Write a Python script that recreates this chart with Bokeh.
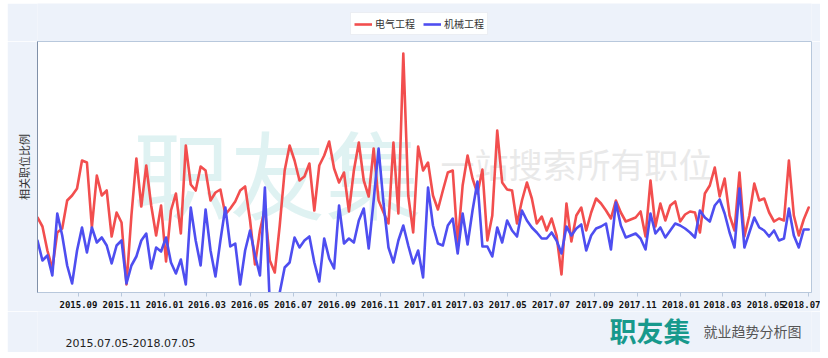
import pandas as pd
from bokeh.plotting import figure
from bokeh.layouts import column
from bokeh.models import (ColumnDataSource, FixedTicker, Range1d,
                          Label, Legend, LegendItem, DatetimeTickFormatter)
from bokeh.embed import file_html
from bokeh.resources import INLINE

# ---- data (weekly, 2015.07.05 - 2018.07.05) ----
start_date = "2015-07-05"
end_date = "2018-07-05"
series_names = ["电气工程", "机械工程"]

electrical = [
    0.75, 0.66, 0.42, 0.24, 0.60, 0.64, 0.92, 0.97, 1.04, 1.32,
    1.30, 0.65, 1.17, 0.97, 1.02, 0.56, 0.80, 0.70, 0.08, 0.77,
    1.34, 0.86, 1.27, 0.87, 0.57, 0.87, 0.31, 0.82, 0.99, 0.59,
    1.47, 1.08, 1.02, 1.26, 1.22, 0.92, 1.00, 1.03, 0.78, 0.84,
    0.91, 1.02, 1.06, 0.72, 0.28, 0.62, 0.84, 0.32, 0.20, 0.67,
    1.22, 1.47, 1.32, 1.12, 1.16, 1.29, 0.82, 1.27, 1.37, 1.51,
    1.24, 1.10, 1.20, 0.81, 1.22, 1.50, 1.12, 0.96, 1.44, 0.92,
    0.80, 0.69, 1.50, 0.79, 2.39, 0.97, 0.60, 1.46, 1.22, 1.30,
    0.97, 0.83, 1.02, 1.20, 1.22, 0.49, 1.07, 1.37, 1.14, 0.99,
    1.23, 0.52, 0.77, 1.62, 1.10, 1.03, 1.02, 0.69, 0.92, 1.10,
    0.94, 0.69, 0.76, 0.62, 0.74, 0.57, 0.18, 0.89, 0.51, 0.77,
    0.85, 0.62, 0.80, 0.94, 0.89, 0.82, 0.74, 0.92, 0.80, 0.71,
    0.73, 0.75, 0.81, 0.56, 1.12, 0.66, 0.89, 0.72, 0.87, 0.91,
    0.71, 0.78, 0.81, 0.80, 0.60, 0.99, 1.07, 1.25, 0.96, 1.14,
    0.77, 0.62, 1.20, 0.56, 0.77, 1.09, 0.92, 0.94, 0.80, 0.71,
    0.74, 0.72, 1.32, 0.77, 0.57, 0.73, 0.85,
]

mechanical = [
    0.52, 0.32, 0.37, 0.17, 0.79, 0.57, 0.27, 0.09, 0.42, 0.65,
    0.40, 0.65, 0.50, 0.55, 0.47, 0.29, 0.47, 0.52, 0.09, 0.27,
    0.36, 0.52, 0.59, 0.24, 0.45, 0.41, 0.55, 0.30, 0.19, 0.33,
    0.08, 0.85, 0.52, 0.27, 0.83, 0.42, 0.16, 0.52, 0.85, 0.46,
    0.49, 0.08, 0.42, 0.62, 0.37, 0.17, 1.05, -0.13, -0.28, 0.00,
    0.25, 0.30, 0.55, 0.45, 0.52, 0.56, 0.30, 0.11, 0.54, 0.34,
    0.24, 0.87, 0.49, 0.54, 0.50, 0.72, 0.84, 0.44, 0.92, 1.44,
    0.89, 0.45, 0.30, 0.52, 0.67, 0.47, 0.29, 0.42, 0.15, 1.05,
    0.67, 0.49, 0.47, 0.67, 0.74, 0.39, 0.79, 0.48, 0.82, 1.11,
    0.46, 0.46, 0.36, 0.65, 0.50, 0.72, 0.62, 0.56, 0.82, 0.72,
    0.65, 0.60, 0.54, 0.54, 0.60, 0.52, 0.39, 0.66, 0.57, 0.64,
    0.68, 0.42, 0.57, 0.64, 0.66, 0.69, 0.43, 0.90, 0.67, 0.55,
    0.57, 0.59, 0.54, 0.43, 0.79, 0.59, 0.65, 0.55, 0.62, 0.69,
    0.67, 0.64, 0.60, 0.55, 0.82, 0.75, 0.71, 0.87, 0.93, 0.79,
    0.60, 0.45, 1.04, 0.45, 0.60, 0.75, 0.65, 0.62, 0.56, 0.62,
    0.52, 0.54, 0.84, 0.57, 0.45, 0.63, 0.63,
]

tick_labels = ["2015.09", "2015.11", "2016.01", "2016.03", "2016.05", "2016.07",
               "2016.09", "2016.11", "2017.01", "2017.03", "2017.05", "2017.07",
               "2017.09", "2017.11", "2018.01", "2018.03", "2018.05", "2018.07"]

y_min, y_max = 0.0, 2.51

date_span_text = "2015.07.05-2018.07.05"
brand_text = "职友集"
brand_sub_text = "就业趋势分析图"
watermark_main = "职友集"
watermark_sub = "一站搜索所有职位"

RED = "#f24e4e"
BLUE = "#4e4ef0"
PANEL_BG = "#edf2fa"
W = 813

# ---- build ----
dates = pd.date_range(start_date, periods=len(electrical), freq="7D")
source = ColumnDataSource(data=dict(date=dates, elec=electrical, mech=mechanical))

def to_ms(ts):
    return pd.Timestamp(ts).value / 1e6

tick_ms = [to_ms(pd.Timestamp(t.replace(".", "-") + "-01")) for t in tick_labels]


def blank_fig(h):
    f = figure(width=W, height=h, output_backend="svg", toolbar_location=None,
               x_axis_location=None, y_axis_location=None,
               x_range=Range1d(0, 1), y_range=Range1d(0, 1),
               min_border_left=0, min_border_right=0, min_border_top=0,
               min_border_bottom=0)
    f.background_fill_color = PANEL_BG
    f.border_fill_color = PANEL_BG
    f.outline_line_color = None
    f.xgrid.visible = False
    f.ygrid.visible = False
    return f


# top strip with the legend (the key lines sit outside the strip's visible range)
top = blank_fig(38)
key_source = ColumnDataSource(data=dict(x=[-5.0, -4.0], y=[-5.0, -5.0]))
lr1 = top.line("x", "y", source=key_source, line_color=RED, line_width=2.6)
lr2 = top.line("x", "y", source=key_source, line_color=BLUE, line_width=2.6)
legend = Legend(items=[LegendItem(label=series_names[0], renderers=[lr1]),
                       LegendItem(label=series_names[1], renderers=[lr2])],
                orientation="horizontal", location=(313, 6),
                label_text_font="Noto Sans CJK SC", label_text_font_size="10px",
                label_text_color="#333333", glyph_width=18, glyph_height=10,
                label_standoff=3, spacing=8, padding=3, margin=0,
                border_line_color="#d8dee8", background_fill_color="white",
                label_height=12)
top.add_layout(legend, "center")

# main chart
p = figure(width=W, height=270, x_axis_type="datetime",
           output_backend="svg", toolbar_location=None,
           x_range=Range1d(to_ms(start_date), to_ms(end_date)),
           y_range=Range1d(y_min, y_max),
           min_border_left=30, min_border_right=9, min_border_top=0,
           min_border_bottom=19)
p.background_fill_color = "white"
p.border_fill_color = PANEL_BG
p.outline_line_color = "#b8c8dc"
p.outline_line_width = 1
p.xgrid.visible = False
p.ygrid.visible = False

p.add_layout(Label(x=96, y=53, x_units="screen", y_units="screen", text=watermark_main,
                   text_font="Noto Sans CJK SC", text_font_size="96px",
                   text_color="#d2ecec", text_alpha=0.7, level="underlay"))
p.add_layout(Label(x=403, y=105, x_units="screen", y_units="screen",
                   text=watermark_sub,
                   text_font="Noto Sans CJK SC", text_font_size="34px",
                   text_color="#e4e4e4", text_alpha=0.8, level="underlay"))

p.line("date", "elec", source=source, line_color=RED, line_width=2.6,
       line_join="round", line_cap="round")
p.line("date", "mech", source=source, line_color=BLUE, line_width=2.6,
       line_join="round", line_cap="round")

xa = p.xaxis[0]
xa.ticker = FixedTicker(ticks=tick_ms)
xa.formatter = DatetimeTickFormatter(months="%Y.%m", days="%Y.%m", years="%Y.%m")
xa.major_label_text_font = "DejaVu Sans Mono"
xa.major_label_text_font_style = "bold"
xa.major_label_text_font_size = "9px"
xa.major_label_text_color = "#111111"
xa.axis_line_color = "#b8c8dc"
xa.major_tick_line_color = "#b8c8dc"
xa.major_tick_in = 0
xa.major_tick_out = 4
xa.minor_tick_line_color = None
xa.major_label_standoff = 4

ya = p.yaxis[0]
ya.ticker = FixedTicker(ticks=[])
ya.axis_label = "相关职位比例"
ya.axis_label_text_font = "Noto Sans CJK SC"
ya.axis_label_text_font_style = "normal"
ya.axis_label_text_font_size = "11px"
ya.axis_label_text_color = "#333333"
ya.axis_label_standoff = 6
ya.major_label_standoff = 0
ya.major_tick_line_color = None
ya.minor_tick_line_color = None
ya.axis_line_color = "#8090a8"

# bottom strip with the footer
bottom = blank_fig(41)
bottom.add_layout(Label(x=28, y=10, x_units="screen", y_units="screen",
                        text=date_span_text, text_font="DejaVu Sans",
                        text_font_size="11px", text_color="#222222",
                        text_baseline="middle"))
bottom.add_layout(Label(x=572, y=22, x_units="screen", y_units="screen",
                        text=brand_text, text_font="Noto Sans CJK SC",
                        text_font_style="bold", text_font_size="27px",
                        text_color="#17998c", text_baseline="middle"))
bottom.add_layout(Label(x=666, y=22, x_units="screen", y_units="screen",
                        text=brand_sub_text, text_font="Noto Sans CJK SC",
                        text_font_size="14px", text_color="#555555",
                        text_baseline="middle"))

layout = column(top, p, bottom, spacing=0, margin=(3, 8, 6, 7))

open("out.html", "w").write(file_html(layout, INLINE))
